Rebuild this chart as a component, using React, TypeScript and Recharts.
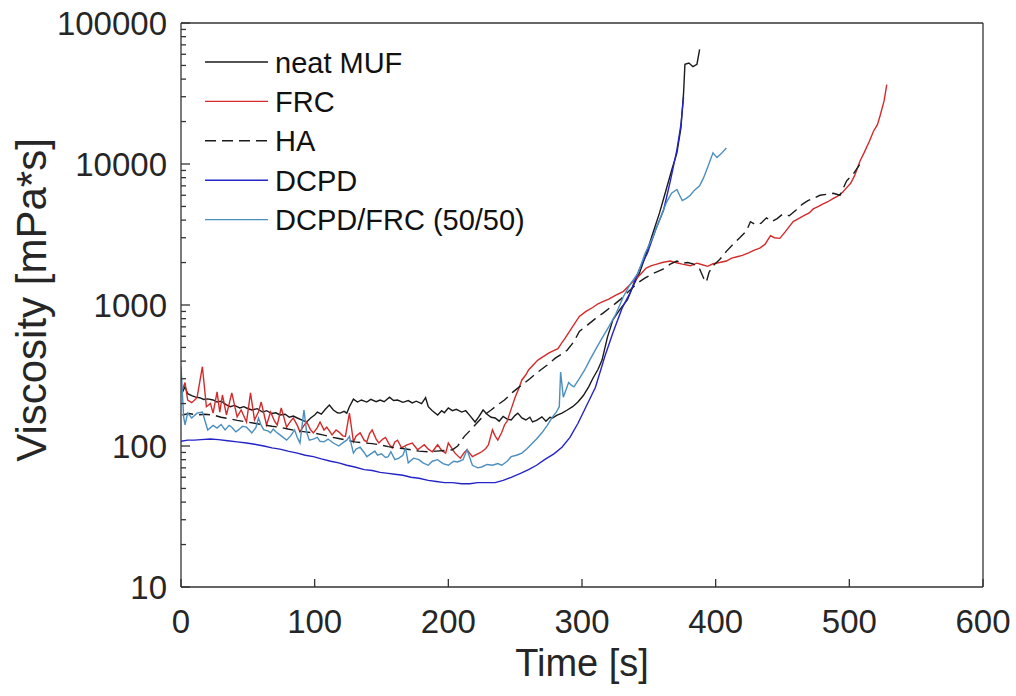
import React from 'react';
import { LineChart, Line, XAxis, YAxis, Legend } from 'recharts';

// time [s] / viscosity [mPa*s]
const neatT = [1, 3, 5, 8, 11, 14, 17, 20, 24, 27, 30, 34, 37, 40, 44, 47, 49, 53, 57, 61, 64, 68, 71, 74, 78, 81, 84, 87, 91, 94, 97, 100, 102, 105, 108, 111, 114, 117, 119, 122, 124, 126, 129, 132, 135, 139, 142, 146, 149, 152, 156, 159, 162, 166, 170, 173, 176, 180, 183, 185, 188, 192, 195, 197, 200, 203, 206, 210, 213, 216, 220, 223, 226, 229, 232, 235, 238, 241, 244, 247, 250, 252, 255, 258, 261, 263, 266, 270, 273, 276, 278, 281, 285, 289, 293, 297, 301, 305, 308, 312, 315, 319, 323, 328, 334, 338, 343, 348, 353, 358, 363, 367, 371, 374, 376, 377, 380, 383, 386, 388];
const neatV = [240, 263, 235, 228, 222, 220, 214, 216, 212, 205, 208, 196, 190, 194, 186, 190, 186, 180, 184, 174, 178, 170, 172, 166, 168, 160, 163, 158, 152, 148, 158, 166, 174, 168, 182, 195, 180, 172, 171, 176, 171, 190, 215, 205, 212, 205, 214, 206, 212, 206, 222, 210, 212, 204, 210, 202, 208, 200, 220, 190, 178, 166, 178, 172, 186, 178, 182, 174, 178, 165, 148, 162, 180, 168, 160, 158, 150, 162, 155, 153, 165, 171, 158, 153, 160, 148, 152, 161, 150, 160, 158, 165, 171, 180, 190, 205, 228, 263, 300, 350, 407, 590, 780, 920, 1090, 1350, 1690, 2300, 3230, 4500, 6600, 9000, 12000, 18000, 32000, 51000, 52000, 49000, 51000, 65000];

const frcT = [1, 3, 5, 8, 12, 16, 19, 22, 24, 27, 29, 31, 34, 38, 42, 45, 49, 52, 55, 58, 60, 64, 67, 70, 72, 75, 79, 82, 84, 87, 89, 92, 94, 97, 99, 102, 104, 107, 109, 111, 113, 116, 118, 121, 123, 126, 129, 131, 134, 137, 139, 141, 143, 146, 148, 151, 153, 156, 158, 160, 162, 165, 169, 173, 177, 182, 185, 188, 192, 195, 198, 200, 203, 205, 209, 212, 214, 218, 222, 225, 228, 230, 233, 235, 237, 240, 242, 244, 246, 248, 250, 253, 255, 258, 260, 264, 267, 271, 275, 278, 282, 285, 287, 292, 298, 303, 308, 312, 316, 320, 325, 331, 336, 341, 345, 348, 352, 356, 360, 366, 370, 375, 381, 386, 390, 394, 398, 403, 408, 412, 416, 420, 425, 429, 433, 437, 441, 444, 448, 452, 455, 458, 462, 466, 470, 473, 477, 480, 484, 488, 491, 495, 498, 501, 504, 508, 511, 515, 518, 521, 523, 526, 528];
const frcV = [250, 282, 212, 203, 220, 365, 190, 200, 171, 242, 174, 230, 166, 238, 161, 180, 148, 238, 153, 175, 205, 141, 174, 150, 141, 186, 136, 150, 158, 140, 126, 140, 148, 130, 124, 135, 148, 130, 136, 128, 120, 130, 126, 118, 117, 171, 107, 118, 124, 110, 107, 122, 130, 112, 105, 112, 115, 102, 97, 107, 110, 97, 102, 105, 94, 102, 95, 91, 102, 93, 89, 105, 95, 89, 82, 90, 94, 84, 88, 91, 96, 102, 130, 118, 110, 125, 141, 150, 171, 195, 222, 260, 294, 320, 346, 380, 407, 430, 455, 470, 490, 540, 575, 680, 830, 900, 960, 1020, 1060, 1100, 1170, 1250, 1400, 1550, 1700, 1830, 1900, 1950, 2000, 2050, 2000, 1950, 1900, 1980, 1930, 1880, 1960, 2000, 2050, 2150, 2200, 2250, 2350, 2450, 2530, 2700, 3100, 3000, 2970, 3300, 3600, 3900, 4100, 4300, 4500, 4800, 5000, 5200, 5400, 5700, 5900, 6300, 6800, 7300, 8300, 10500, 12000, 14500, 17000, 19000, 22000, 28000, 36500];

const haT = [1, 6, 12, 18, 24, 30, 36, 42, 49, 55, 62, 68, 74, 80, 87, 93, 99, 106, 112, 118, 124, 130, 137, 143, 149, 155, 160, 166, 172, 178, 185, 191, 197, 203, 207, 212, 216, 220, 224, 227, 232, 237, 242, 248, 255, 261, 267, 274, 280, 285, 289, 294, 298, 304, 310, 316, 323, 329, 335, 341, 347, 352, 356, 361, 366, 371, 375, 379, 383, 388, 391, 393, 395, 398, 403, 408, 413, 418, 423, 426, 430, 434, 438, 442, 446, 450, 455, 460, 465, 469, 473, 478, 483, 488, 493, 498, 503, 508];
const haV = [166, 170, 166, 168, 166, 160, 156, 152, 148, 145, 141, 138, 136, 132, 128, 126, 124, 120, 116, 113, 110, 107, 105, 104, 102, 99, 97, 96, 94, 92, 91, 92, 93, 94, 100, 117, 128, 141, 155, 166, 180, 196, 212, 240, 271, 300, 335, 375, 420, 450, 480, 550, 650, 720, 800, 880, 990, 1100, 1250, 1420, 1550, 1650, 1720, 1800, 1950, 2050, 1980, 2000, 1960, 1800, 1550, 1450, 1700, 1900, 2100, 2400, 2700, 3000, 3350, 3900, 3700, 3800, 4150, 3900, 4100, 4400, 4300, 4700, 5200, 5500, 5700, 6000, 6100, 6200, 6000, 7600, 8500, 10000];

const dcpdT = [0, 5, 10, 15, 22, 28, 35, 42, 49, 55, 62, 68, 74, 80, 87, 93, 99, 105, 112, 118, 124, 130, 137, 143, 149, 155, 160, 166, 172, 178, 185, 191, 197, 203, 210, 216, 222, 228, 235, 241, 247, 254, 260, 266, 272, 279, 285, 291, 297, 303, 310, 317, 323, 330, 336, 343, 349, 355, 361, 366, 371, 374, 376];
const dcpdV = [108, 110, 110, 111, 112, 111, 109, 107, 105, 103, 100, 97, 95, 92, 89, 86, 84, 81, 78, 76, 73, 71, 68, 67, 65, 64, 63, 62, 60, 59, 57, 56, 55, 55, 54, 54, 55, 55, 55, 57, 60, 64, 68, 73, 80, 88, 98, 115, 145, 190, 260, 430, 630, 950, 1220, 1800, 2340, 3400, 4700, 7500, 12600, 19000, 30000];

const mixT = [0, 2, 3, 5, 8, 12, 16, 20, 24, 27, 30, 33, 36, 38, 41, 43, 46, 49, 53, 56, 58, 60, 62, 65, 67, 69, 71, 75, 79, 82, 85, 87, 89, 92, 94, 96, 99, 102, 104, 107, 110, 114, 118, 122, 124, 126, 129, 131, 134, 137, 139, 142, 145, 147, 150, 153, 155, 157, 160, 163, 166, 168, 170, 174, 178, 181, 185, 188, 192, 196, 200, 204, 207, 211, 214, 218, 222, 225, 229, 233, 237, 240, 244, 247, 251, 255, 259, 263, 266, 270, 274, 278, 281, 283, 284, 286, 288, 290, 292, 294, 298, 302, 306, 310, 315, 320, 325, 331, 336, 342, 347, 353, 358, 363, 367, 371, 373, 375, 378, 381, 384, 388, 391, 394, 398, 401, 404, 408];
const mixV = [365, 160, 141, 171, 158, 171, 174, 130, 140, 134, 142, 130, 140, 136, 126, 130, 138, 136, 124, 135, 158, 140, 130, 128, 124, 132, 126, 118, 110, 118, 130, 115, 105, 180, 125, 110, 112, 115, 108, 107, 112, 105, 100, 107, 110, 117, 89, 95, 98, 90, 84, 88, 92, 86, 88, 83, 84, 91, 80, 82, 86, 97, 76, 82, 80, 76, 73, 78, 80, 75, 73, 78, 77, 80, 94, 73, 70, 71, 74, 73, 75, 73, 78, 84, 86, 89, 96, 105, 112, 124, 140, 161, 175, 190, 335, 222, 250, 282, 270, 263, 300, 346, 410, 480, 583, 700, 850, 1150, 1400, 1690, 2300, 3030, 4000, 5300, 6200, 6600, 6000, 5500, 5700, 6000, 6500, 7000, 8000, 9500, 12000, 11100, 11800, 13000];

const seriesNames = ['neat MUF', 'FRC', 'HA', 'DCPD', 'DCPD/FRC (50/50)'];
const xTicks = [0, 100, 200, 300, 400, 500, 600];
const yMajor = [10, 100, 1000, 10000, 100000];
const yTicks = [10, 20, 30, 40, 50, 60, 70, 80, 90, 100, 200, 300, 400, 500, 600, 700, 800, 900, 1000, 2000, 3000, 4000, 5000, 6000, 7000, 8000, 9000, 10000, 20000, 30000, 40000, 50000, 60000, 70000, 80000, 90000, 100000];

const toRows = (ts: number[], vs: number[]) => ts.map((t, i) => ({ t, v: vs[i] }));

const AXIS = '#333333';
const FONT = '"Liberation Sans", Arial, sans-serif';

const series = [
  { name: seriesNames[0], data: toRows(neatT, neatV), color: '#1a1a1a', dash: undefined },
  { name: seriesNames[1], data: toRows(frcT, frcV), color: '#d42a2a', dash: undefined },
  { name: seriesNames[2], data: toRows(haT, haV), color: '#1a1a1a', dash: '11 6' },
  { name: seriesNames[3], data: toRows(dcpdT, dcpdV), color: '#2424c8', dash: undefined },
  { name: seriesNames[4], data: toRows(mixT, mixV), color: '#4b8fbf', dash: undefined },
];

const BottomTick = ({ x, y, payload }: any) => (
  <g>
    <line x1={x} x2={x} y1={y} y2={y - 8} stroke={AXIS} strokeWidth={1.3} />
    <text x={x} y={y + 46} textAnchor="middle" fontSize={33} fill="#262626" fontFamily={FONT}>
      {payload.value}
    </text>
  </g>
);

const TopTick = ({ x, y }: any) => (
  <line x1={x} x2={x} y1={y} y2={y + 8} stroke={AXIS} strokeWidth={1.3} />
);

const LeftTick = ({ x, y, payload }: any) => {
  const major = yMajor.includes(payload.value);
  return (
    <g>
      <line x1={x} x2={x + (major ? 9 : 5)} y1={y} y2={y} stroke={AXIS} strokeWidth={1.3} />
      {major && (
        <text x={x - 14} y={y + 12} textAnchor="end" fontSize={33} fill="#262626" fontFamily={FONT}>
          {payload.value}
        </text>
      )}
    </g>
  );
};

const RightTick = ({ x, y, payload }: any) => {
  const major = yMajor.includes(payload.value);
  return <line x1={x} x2={x - (major ? 9 : 5)} y1={y} y2={y} stroke={AXIS} strokeWidth={1.3} />;
};

const renderLegend = (props: any) => {
  const items = props.payload || [];
  return (
    <svg width={360} height={210}>
      {seriesNames.map((name, i) => {
        const s = series[i];
        const found = items.find((p: any) => p.value === name);
        const cy = 22 + i * 39.4;
        return (
          <g key={name}>
            <line x1={0} x2={63} y1={cy} y2={cy} stroke={found ? found.color : s.color} strokeWidth={1.4} strokeDasharray={s.dash} />
            <text x={70} y={cy + 10.5} fontSize={29} fill="#111" fontFamily={FONT}>
              {name}
            </text>
          </g>
        );
      })}
    </svg>
  );
};

export default function App() {
  return (
    <div style={{ position: 'absolute', left: 0, top: 0, width: 1016, height: 696, background: '#fff' }}>
      <LineChart width={1016} height={696} margin={{ top: 0, right: 0, bottom: 0, left: 0 }}>
        <XAxis
          xAxisId="b"
          dataKey="t"
          type="number"
          domain={[0, 600]}
          ticks={xTicks}
          interval={0}
          height={109}
          tickLine={false}
          tickSize={0}
          tickMargin={0}
          axisLine={{ stroke: AXIS, strokeWidth: 1.3 }}
          tick={<BottomTick />}
          allowDataOverflow
          label={{
            value: 'Time [s]',
            position: 'insideBottom',
            offset: 20,
            style: { fontSize: 38, fill: '#262626', fontFamily: FONT },
          }}
        />
        <XAxis
          xAxisId="top"
          orientation="top"
          type="number"
          domain={[0, 600]}
          ticks={xTicks}
          interval={0}
          height={23}
          tickLine={false}
          tickSize={0}
          tickMargin={0}
          axisLine={{ stroke: AXIS, strokeWidth: 1.3 }}
          tick={<TopTick />}
        />
        <YAxis
          yAxisId="l"
          type="number"
          scale="log"
          domain={[10, 100000]}
          ticks={yTicks}
          interval={0}
          width={181}
          tickLine={false}
          tickSize={0}
          tickMargin={0}
          axisLine={{ stroke: AXIS, strokeWidth: 1.3 }}
          tick={<LeftTick />}
          allowDataOverflow
          label={{
            content: () => (
              <text transform="translate(46,300) rotate(-90)" textAnchor="middle" fontSize={42} fill="#262626" fontFamily={FONT}>
                Viscosity [mPa*s]
              </text>
            ),
          }}
        />
        <YAxis
          yAxisId="r"
          orientation="right"
          type="number"
          scale="log"
          domain={[10, 100000]}
          ticks={yTicks}
          interval={0}
          width={33}
          tickLine={false}
          tickSize={0}
          tickMargin={0}
          axisLine={{ stroke: AXIS, strokeWidth: 1.3 }}
          tick={<RightTick />}
        />
        <Legend
          content={renderLegend}
          layout="horizontal"
          verticalAlign="middle"
          align="center"
          wrapperStyle={{ position: 'absolute', left: 205, top: 40, width: 360, height: 210, margin: 0 }}
        />
        {series.map((s) => (
          <Line
            key={s.name}
            xAxisId="b"
            yAxisId="l"
            data={s.data}
            dataKey="v"
            name={s.name}
            type="linear"
            stroke={s.color}
            strokeWidth={1.4}
            strokeDasharray={s.dash}
            dot={false}
            activeDot={false}
            legendType="line"
            isAnimationActive={false}
          />
        ))}
      </LineChart>
    </div>
  );
}
